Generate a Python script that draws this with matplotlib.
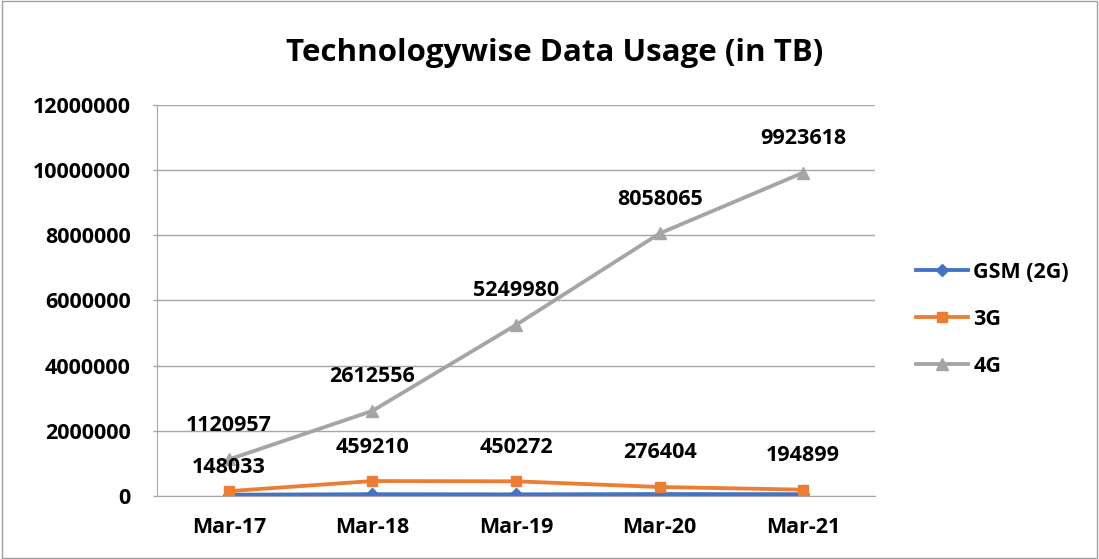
import matplotlib
matplotlib.use('Agg')
import matplotlib.pyplot as plt
from matplotlib.patches import Rectangle

plt.rcParams['font.family'] = ['Open Sans', 'DejaVu Sans']
plt.rcParams['font.weight'] = 'bold'

years = ['Mar-17', 'Mar-18', 'Mar-19', 'Mar-20', 'Mar-21']
gsm_2g = [40000, 55000, 50000, 60000, 55000]
g3 = [148033, 459210, 450272, 276404, 194899]
g4 = [1120957, 2612556, 5249980, 8058065, 9923618]
yticks = [0, 2000000, 4000000, 6000000, 8000000, 10000000, 12000000]

fig = plt.figure(figsize=(10.99, 5.59), dpi=100)
ax = fig.add_axes([0.1429, 0.1127, 0.6533, 0.6995])

x = list(range(len(years)))
ax.plot(x, gsm_2g, color='#4472C4', lw=2.75, marker='D', ms=6.5, label='GSM (2G)')
ax.plot(x, g3, color='#ED7D31', lw=2.75, marker='s', ms=7.5, label='3G')
ax.plot(x, g4, color='#A5A5A5', lw=2.75, marker='^', ms=8, label='4G')

# data labels for 3G and 4G
for i, v in enumerate(g3):
    dy = 24 if i == 0 else 34
    ax.annotate(str(v), (i, v), xytext=(0, dy), textcoords='offset pixels',
                ha='center', va='center', fontsize=15.5, fontweight='bold')
for i, v in enumerate(g4):
    ax.annotate(str(v), (i, v), xytext=(0, 34), textcoords='offset pixels',
                ha='center', va='center', fontsize=15.5, fontweight='bold')

ax.set_xlim(-0.5, len(years) - 0.5)
ax.set_ylim(0, 12000000)
ax.set_yticks(yticks)
ax.set_yticklabels([str(t) for t in yticks])
ax.set_xticks(x)
ax.set_xticklabels(years)
ax.tick_params(axis='y', direction='out', length=3, width=1, color='#A6A6A6',
               labelsize=15.5, pad=16)
ax.tick_params(axis='x', length=0, labelsize=15.5, pad=15)
for lbl in ax.get_xticklabels() + ax.get_yticklabels():
    lbl.set_fontweight('bold')
ax.grid(axis='y', color='#A6A6A6', lw=1)
ax.set_axisbelow(True)
for s in ['top', 'right']:
    ax.spines[s].set_visible(False)
ax.spines['bottom'].set_color('#A6A6A6')
ax.spines['left'].set_color('#A6A6A6')

fig.text(0.505, 0.905, 'Technologywise Data Usage (in TB)', ha='center', va='center',
         fontsize=22.5, fontweight='bold')

leg = fig.legend(loc='center left', bbox_to_anchor=(0.816, 0.429), frameon=False,
                 fontsize=15.5, labelspacing=1.2, handlelength=2.4, handletextpad=0.25)
for t in leg.get_texts():
    t.set_fontweight('bold')

fig.patches.append(Rectangle((0.002, 0.002), 0.996, 0.996, transform=fig.transFigure,
                             fill=False, ec='#A0A0A0', lw=1))

fig.savefig('out.png', dpi=100)
